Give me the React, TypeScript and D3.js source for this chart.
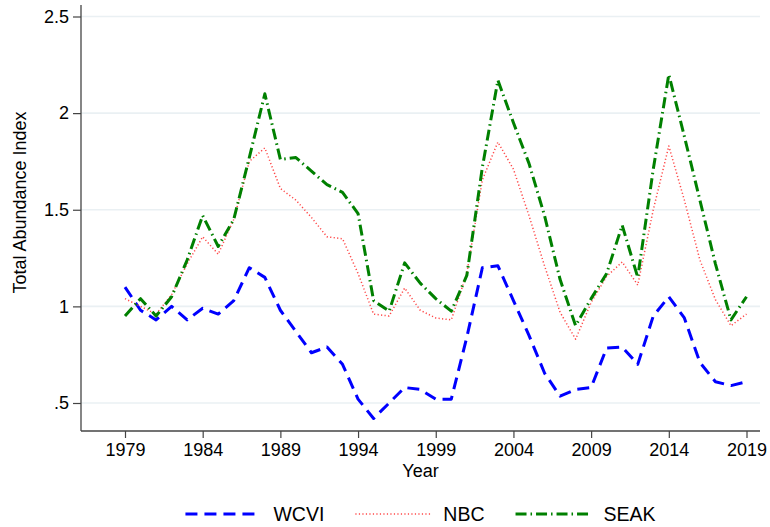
import React, { useRef, useEffect } from "react";
import * as d3 from "d3";

const years = [
  1979, 1980, 1981, 1982, 1983, 1984, 1985, 1986, 1987, 1988, 1989, 1990, 1991,
  1992, 1993, 1994, 1995, 1996, 1997, 1998, 1999, 2000, 2001, 2002, 2003, 2004,
  2005, 2006, 2007, 2008, 2009, 2010, 2011, 2012, 2013, 2014, 2015, 2016, 2017,
  2018, 2019,
];

const wcvi = [
  1.1, 0.98, 0.93, 1.0, 0.93, 0.99, 0.96, 1.03, 1.2, 1.15, 0.98, 0.87, 0.76,
  0.79, 0.7, 0.52, 0.42, 0.5, 0.58, 0.57, 0.52, 0.52, 0.84, 1.2, 1.21, 1.03,
  0.85, 0.655, 0.535, 0.57, 0.58, 0.785, 0.79, 0.7, 0.95, 1.05, 0.94, 0.71,
  0.61, 0.59, 0.61,
];

const nbc = [
  1.04, 1.0, 0.96, 1.06, 1.22, 1.36, 1.27, 1.45, 1.75, 1.82, 1.61, 1.55, 1.46,
  1.36, 1.35, 1.17, 0.96, 0.95, 1.095, 0.98, 0.94, 0.93, 1.17, 1.655, 1.85,
  1.71, 1.47, 1.21, 0.97, 0.83, 1.02, 1.155, 1.23, 1.11, 1.5, 1.83, 1.55, 1.24,
  1.035, 0.9, 0.96,
];

const seak = [
  0.95, 1.04, 0.95, 1.05, 1.24, 1.47, 1.31, 1.45, 1.77, 2.1, 1.76, 1.77, 1.7,
  1.63, 1.59, 1.48, 1.03, 0.975, 1.225, 1.12, 1.04, 0.975, 1.16, 1.72, 2.17,
  1.95, 1.74, 1.47, 1.14, 0.9, 1.04, 1.17, 1.42, 1.15, 1.71, 2.2, 1.88, 1.55,
  1.22, 0.93, 1.05,
];

const xTicks = [1979, 1984, 1989, 1994, 1999, 2004, 2009, 2014, 2019];
const yTicks = [0.5, 1, 1.5, 2, 2.5];
const yTickLabels = [".5", "1", "1.5", "2", "2.5"];

const series = [
  { label: "WCVI", values: wcvi, color: "#0000ff", width: 3, dash: "12,7" },
  { label: "NBC", values: nbc, color: "#ff4848", width: 1.5, dash: "1.2,2.3" },
  { label: "SEAK", values: seak, color: "#008000", width: 3, dash: "11,4,1.5,4" },
];

const W = 770;
const H = 527;
const FONT = "'Liberation Sans', Arial, sans-serif";

const App = () => {
  const svgRef = useRef(null);

  useEffect(() => {
    document.body.style.margin = "0";
    const svg = d3.select(svgRef.current);
    svg.selectAll("*").remove();

    const plot = { left: 81, right: 760, top: 5, bottom: 431 };

    const x = d3.scaleLinear().domain([1979, 2019]).range([125, 746.5]);
    const y = d3.scaleLinear().domain([0.5, 2.5]).range([403, 16.5]);

    // gridlines
    svg
      .append("g")
      .selectAll("line")
      .data(yTicks)
      .join("line")
      .attr("x1", plot.left)
      .attr("x2", plot.right)
      .attr("y1", (d) => y(d))
      .attr("y2", (d) => y(d))
      .attr("stroke", "#eaf0f3")
      .attr("stroke-width", 1.6);

    // y axis
    const yAxis = svg
      .append("g")
      .attr("transform", `translate(${plot.left},0)`)
      .call(
        d3
          .axisLeft(y)
          .tickValues(yTicks)
          .tickFormat((d, i) => yTickLabels[i])
          .tickSize(8)
          .tickPadding(4)
          .tickSizeOuter(0)
      );
    yAxis.select(".domain").attr("d", `M0,${plot.top}V${plot.bottom}`);
    yAxis.selectAll("line").attr("stroke", "#444").attr("stroke-width", 1.2);
    yAxis.select(".domain").attr("stroke", "#444").attr("stroke-width", 1.3);
    yAxis
      .selectAll("text")
      .attr("font-family", FONT)
      .attr("font-size", 18)
      .attr("fill", "#000");

    // x axis
    const xAxis = svg
      .append("g")
      .attr("transform", `translate(0,${plot.bottom})`)
      .call(
        d3
          .axisBottom(x)
          .tickValues(xTicks)
          .tickFormat(d3.format("d"))
          .tickSize(7)
          .tickPadding(5)
          .tickSizeOuter(0)
      );
    xAxis.select(".domain").attr("d", `M${plot.left},0H${plot.right}`);
    xAxis.selectAll("line").attr("stroke", "#444").attr("stroke-width", 1.2);
    xAxis.select(".domain").attr("stroke", "#444").attr("stroke-width", 1.3);
    xAxis
      .selectAll("text")
      .attr("font-family", FONT)
      .attr("font-size", 18)
      .attr("fill", "#000");

    // axis titles
    svg
      .append("text")
      .attr("x", (plot.left + plot.right) / 2)
      .attr("y", 477)
      .attr("text-anchor", "middle")
      .attr("font-family", FONT)
      .attr("font-size", 18)
      .text("Year");

    svg
      .append("text")
      .attr("transform", "translate(26,202.5) rotate(-90)")
      .attr("text-anchor", "middle")
      .attr("font-family", FONT)
      .attr("font-size", 18)
      .text("Total Abundance Index");

    // lines
    const line = d3
      .line<number>()
      .x((d, i) => x(years[i]))
      .y((d) => y(d));

    svg
      .append("g")
      .selectAll("path")
      .data(series)
      .join("path")
      .attr("d", (d) => line(d.values))
      .attr("fill", "none")
      .attr("stroke", (d) => d.color)
      .attr("stroke-width", (d) => d.width)
      .attr("stroke-dasharray", (d) => d.dash)
      .attr("stroke-linejoin", "round");

    // legend
    const legend = svg.append("g");
    const items = legend
      .selectAll("g")
      .data(series)
      .join("g");
    items
      .append("line")
      .attr("x1", 0)
      .attr("x2", 75)
      .attr("y1", 0)
      .attr("y2", 0)
      .attr("stroke", (d) => d.color)
      .attr("stroke-width", (d) => d.width)
      .attr("stroke-dasharray", (d) => d.dash);
    items
      .append("text")
      .attr("x", 88)
      .attr("dy", "0.35em")
      .attr("font-family", FONT)
      .attr("font-size", 19.5)
      .text((d) => d.label);

    let offset = 0;
    const positions: number[] = [];
    items.each(function () {
      const t = d3.select(this).select("text").node() as SVGTextElement;
      positions.push(offset);
      offset += 88 + t.getComputedTextLength() + 31;
    });
    const total = offset - 31;
    const start = (plot.left + plot.right) / 2 - total / 2;
    items.attr("transform", (d, i) => `translate(${start + positions[i]},514)`);
  }, []);

  return <svg ref={svgRef} width={W} height={H} style={{ display: "block" }}></svg>;
};

export default App;
